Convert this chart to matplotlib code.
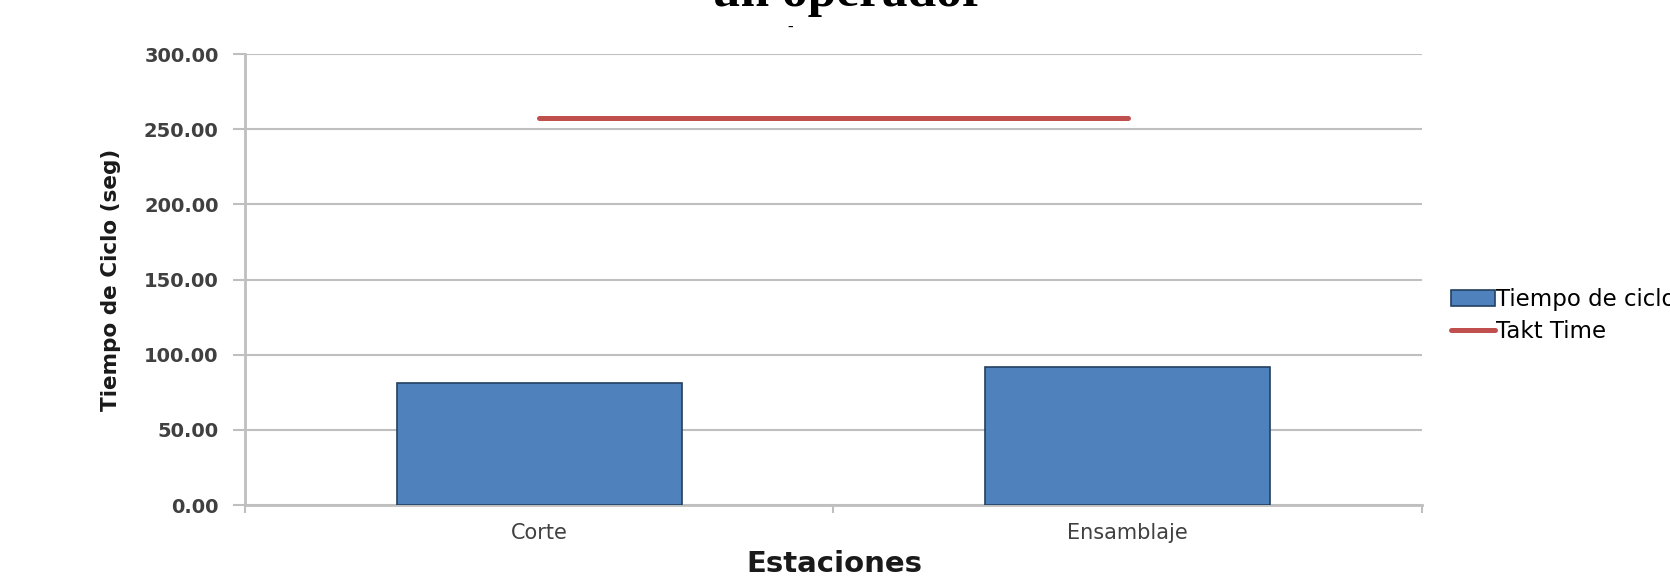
import matplotlib
matplotlib.use("Agg")
import matplotlib.pyplot as plt
import numpy as np

# datos
estaciones = ["Corte", "Ensamblaje"]
tiempo_ciclo = [81.2, 91.8]
takt_time = [257.5, 257.5]
y_ticks = [0, 50, 100, 150, 200, 250, 300]

gris = "#BFBFBF"
texto = "#404040"

fig = plt.figure(figsize=(16.70, 5.81), dpi=100)
ax = fig.add_axes([0.1467, 0.1308, 0.7048, 0.7762])

x = np.arange(len(estaciones))
barras = ax.bar(x, tiempo_ciclo, width=0.485, color="#4F81BD", edgecolor="#243F60",
                linewidth=1.2, zorder=3, label="Tiempo de ciclo")
linea, = ax.plot(x, takt_time, color="#C0504D", linewidth=3.6, solid_capstyle="round",
                 zorder=4, label="Takt Time")

ax.set_xlim(-0.5, 1.5)
ax.set_ylim(0, 300)
ax.set_yticks(y_ticks)
ax.set_yticklabels([f"{v:.2f}" for v in y_ticks], fontsize=14, fontweight="bold", color=texto)
ax.yaxis.grid(True, color=gris, linewidth=1.5, zorder=0)
ax.set_axisbelow(True)

# ticks del eje x en los limites de categoria, etiquetas en el centro
ax.set_xticks([-0.5, 0.5, 1.5])
ax.set_xticklabels([])
ax.set_xticks(x, minor=True)
ax.set_xticklabels(estaciones, minor=True, fontsize=15, color=texto)
ax.tick_params(axis="x", which="minor", length=0, pad=13)
ax.tick_params(axis="x", which="major", length=6, width=1.5, color=gris)
ax.tick_params(axis="y", length=9, width=1.5, color=gris, pad=10)

for s in ["top", "right"]:
    ax.spines[s].set_visible(False)
ax.spines["left"].set_color(gris)
ax.spines["left"].set_linewidth(2)
ax.spines["bottom"].set_color(gris)
ax.spines["bottom"].set_linewidth(2)

fig.text(111 / 1670, 1 - 280 / 581, "Tiempo de Ciclo (seg)", fontsize=15.5, fontweight="bold",
         color="#1a1a1a", rotation=90, ha="center", va="center")
fig.text(834 / 1670, 1 - 564 / 581, "Estaciones", fontsize=21, fontweight="bold",
         color="#1a1a1a", ha="center", va="center")

# titulo cortado en la parte superior
fig.text(848 / 1670, 1 - 6 / 581, "un operador", fontsize=37, fontweight="bold",
         family="Liberation Serif", ha="center", va="baseline")
fig.text(790 / 1670, 1 - 28 / 581, "-", fontsize=12, fontweight="bold",
         family="Liberation Serif", ha="center", va="center")

fig.legend([barras, linea], ["Tiempo de ciclo", "Takt Time"], loc="upper left",
           bbox_to_anchor=(1451 / 1670, 1 - 288 / 581),
           frameon=False, fontsize=16.5, handlelength=1.9, handletextpad=0.05,
           labelspacing=0.4, borderpad=0, borderaxespad=0)

fig.savefig("out.png", dpi=100)
